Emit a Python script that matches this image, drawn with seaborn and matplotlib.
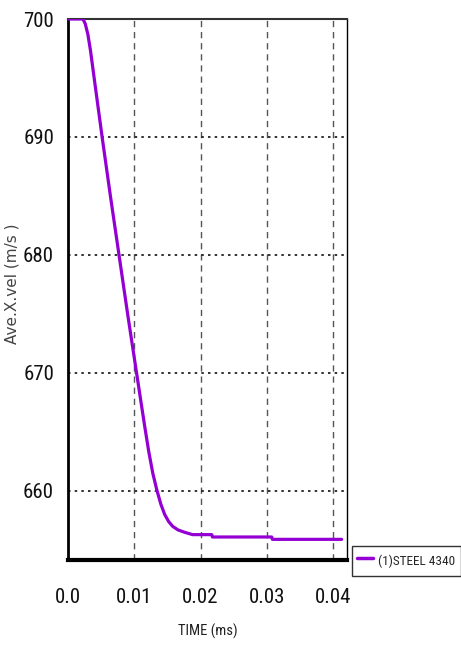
import matplotlib
matplotlib.use("Agg")
import matplotlib.pyplot as plt
import seaborn as sns
import pandas as pd

# Average X velocity of the steel 4340 part over time
time_ms = [0.0, 0.00226, 0.0026, 0.0030, 0.0034, 0.0039, 0.0045, 0.00515,
           0.0064, 0.0077, 0.0090, 0.01035, 0.0110, 0.0116, 0.0122, 0.0128,
           0.0134, 0.0140, 0.0146, 0.0152, 0.0158, 0.0166, 0.0176, 0.0188,
           0.0217, 0.0218, 0.03075, 0.03085, 0.0413]
x_vel = [700.0, 700.0, 699.6, 698.7, 697.3, 695.2, 692.7, 690.0,
         685.0, 680.0, 675.0, 670.0, 667.6, 665.4, 663.3, 661.5,
         660.1, 658.9, 658.0, 657.4, 657.0, 656.7, 656.5, 656.3,
         656.3, 656.1, 656.1, 655.9, 655.9]
series_name = "(1)STEEL 4340"

x_ticks = [0.0, 0.01, 0.02, 0.03, 0.04]
x_tick_labels = ["0.0", "0.01", "0.02", "0.03", "0.04"]
y_ticks = [660, 670, 680, 690, 700]

df = pd.DataFrame({"TIME": time_ms, "VEL": x_vel, "part": series_name})

sns.set_style("white")
narrow = ["Roboto Condensed", "DejaVu Sans"]
plt.rcParams["font.family"] = ["Roboto Condensed", "DejaVu Sans"]

W, H = 461, 646
fig = plt.figure(figsize=(W / 100, H / 100), dpi=100)
ax = fig.add_axes([68 / W, 1 - 560 / H, (347 - 68) / W, (560 - 19) / H])

sns.lineplot(data=df, x="TIME", y="VEL", hue="part", palette=["#9400d3"],
             linewidth=2.3, ax=ax, legend=True, zorder=3)

ax.set_xlim(0.0, 0.04211)
ax.set_ylim(654.15, 700.0)

ax.set_xticks(x_ticks)
ax.set_xticklabels(x_tick_labels)
ax.set_yticks(y_ticks)
ax.set_yticklabels([str(v) for v in y_ticks])
for lab in ax.get_xticklabels() + ax.get_yticklabels():
    lab.set_family(narrow)
    lab.set_fontsize(15)
    lab.set_color("#111111")

ax.tick_params(axis="y", direction="out", length=8, width=2.5, color="black", pad=2)
ax.tick_params(axis="x", direction="out", length=14, width=1.6, color="black", pad=6)

# grid: dashed gray verticals, dotted black horizontals
for xv in x_ticks[1:]:
    ax.axvline(xv, color="#555555", linestyle=(0, (4.5, 3.5)), linewidth=1.0, zorder=1)
for yv in y_ticks[:-1]:
    ax.axhline(yv, color="#111111", linestyle=(0, (1.5, 2.5)), linewidth=1.2, zorder=1)

for s in ax.spines.values():
    s.set_visible(True)
    s.set_color("black")
ax.spines["left"].set_linewidth(2.0)
ax.spines["bottom"].set_linewidth(3.0)
ax.spines["top"].set_linewidth(1.5)
ax.spines["top"].set_color("#333333")
ax.spines["right"].set_linewidth(1.0)

ax.set_xlabel("TIME (ms)", fontsize=10.5, family=narrow, color="#222222")
ax.xaxis.set_label_coords(0.502, -0.118)
ax.set_ylabel("Ave.X.vel (m/s )", fontsize=11, family=["DejaVu Sans"], color="#444444")
ax.yaxis.set_label_coords(-0.175, 0.51)

leg = ax.legend(loc="center left", bbox_to_anchor=(352 / W, 1 - 561 / H),
                bbox_transform=fig.transFigure, frameon=True, fancybox=False,
                borderpad=0.4, borderaxespad=0, handlelength=1.2,
                handleheight=1.9, handletextpad=0.4,
                prop={"family": narrow, "size": 9.5})
leg.get_frame().set_edgecolor("#333333")
leg.get_frame().set_linewidth(1.0)
leg.get_frame().set_alpha(1)
for h in leg.get_lines():
    h.set_linewidth(2.5)

fig.savefig("out.png", dpi=100)
